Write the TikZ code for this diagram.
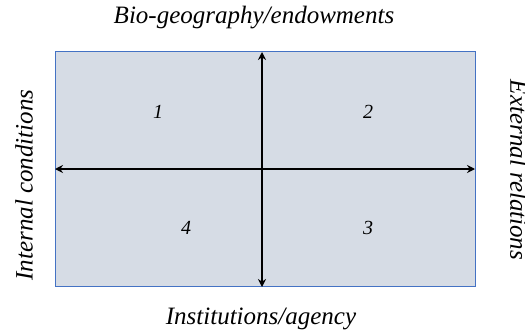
\documentclass[tikz,border=0pt]{standalone}
\usepackage{fontspec}
\setmainfont{Liberation Serif}
\usetikzlibrary{arrows.meta}
\definecolor{boxfill}{HTML}{D6DCE5}
\definecolor{boxline}{HTML}{4472C4}
\begin{document}
\begin{tikzpicture}[x=1pt,y=1pt,
  lbl/.style={font=\fontsize{25}{28}\selectfont\itshape, inner sep=0pt},
  num/.style={font=\fontsize{20}{22}\selectfont\itshape, inner sep=0pt},
  axis/.style={line width=1.8pt, {Stealth[length=8pt,width=8pt]}-{Stealth[length=8pt,width=8pt]}}]
\useasboundingbox (0,0) rectangle (525,333);
\clip (0,0) rectangle (525,333);
\node[draw=boxline, fill=boxfill, line width=0.8pt, minimum width=420pt, minimum height=235pt, inner sep=0pt, anchor=south west] (box) at (55,46) {};
\coordinate (top) at (262,281);
\coordinate (bot) at (262,46);
\coordinate (lft) at (55,164);
\coordinate (rgt) at (475,164);
\draw[axis] (bot) -- (top);
\draw[axis] (lft) -- (rgt);
\node[num] (n1) at (158,221) {1};
\node[num] (n2) at (368,221) {2};
\node[num] (n4) at (186,105) {4};
\node[num] (n3) at (368,105) {3};
\node[lbl] (t) at (254,315) {Bio-geography/endowments};
\node[lbl] (b) at (261,14) {Institutions/agency};
\node[lbl, rotate=90] (l) at (24,148) {Internal conditions};
\node[lbl, rotate=-90] (r) at (519,163) {External relations};
\end{tikzpicture}
\end{document}
